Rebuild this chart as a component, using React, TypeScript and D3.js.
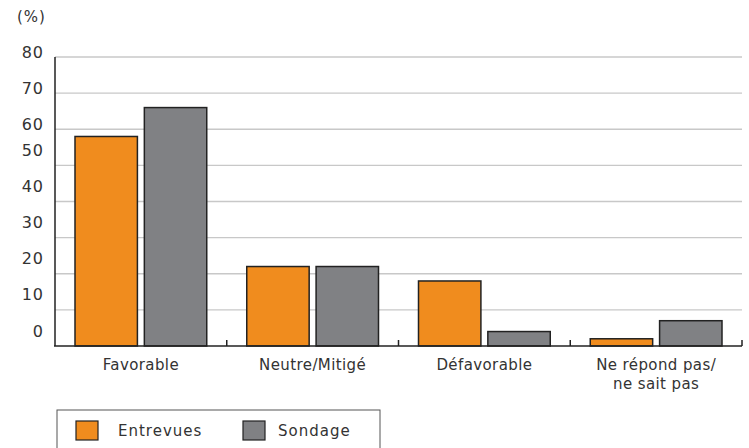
import React from "react";
import * as d3 from "d3";

const categories = ["Favorable", "Neutre/Mitigé", "Défavorable", "Ne répond pas/\nne sait pas"];
const seriesNames = ["Entrevues", "Sondage"];
const entrevues = [58, 22, 18, 2];
const sondage = [66, 22, 4, 7];
const yTicks = [0, 10, 20, 30, 40, 50, 60, 70, 80];
const colors = ["#F08C1E", "#808184"];

export default function App() {
  const W = 749, H = 448;
  const left = 55, right = 742, top = 57, bottom = 346;
  const x0 = d3.scaleBand<string>().domain(categories).range([left, right]).paddingInner(0).paddingOuter(0);
  const bw = x0.bandwidth();
  const x1 = d3.scaleBand<string>().domain(seriesNames).range([20, bw - 20]).paddingInner(0.1).paddingOuter(0);
  const y = d3.scaleLinear().domain([0, 80]).range([bottom, top]);
  const values = [entrevues, sondage];
  const font = "'DejaVu Sans', sans-serif";
  const textColor = "#333";

  return (
    <svg width={W} height={H} style={{ position: "absolute", left: 0, top: 0, background: "#fff" }} fontFamily={font}>
      <text x={17} y={22} fontSize={15} letterSpacing={1} fill={textColor}>(%)</text>
      {yTicks.filter(t => t > 0).map(t => (
        <line key={"g" + t} x1={left} x2={right} y1={y(t)} y2={y(t)} stroke="#c8c8c8" strokeWidth={1.3} />
      ))}
      {yTicks.map(t => (
        <text key={"t" + t} x={44} y={y(t) - (t >= 60 ? 4 : 14)} fontSize={16} letterSpacing={1} fill={textColor} textAnchor="end" dominantBaseline="middle">{t}</text>
      ))}
      {categories.map((c, ci) => (
        <g key={c} transform={`translate(${x0(c)},0)`}>
          {seriesNames.map((s, si) => (
            <rect key={s} x={x1(s)} y={y(values[si][ci])} width={x1.bandwidth()} height={y(0) - y(values[si][ci])}
              fill={colors[si]} stroke="#222" strokeWidth={1.5} />
          ))}
        </g>
      ))}
      <line x1={left} x2={left} y1={top} y2={bottom} stroke="#222" strokeWidth={1.5} />
      <line x1={left - 1} x2={right} y1={bottom} y2={bottom} stroke="#222" strokeWidth={1.5} />
      {categories.map(c => (
        <line key={"k" + c} x1={(x0(c) as number) + bw} x2={(x0(c) as number) + bw} y1={bottom} y2={bottom - 6} stroke="#222" strokeWidth={1.5} />
      ))}
      {categories.map(c => (
        <text key={"l" + c} x={(x0(c) as number) + bw / 2} y={370} fontSize={15} letterSpacing={0.4} fill={textColor} textAnchor="middle">
          {c.split("\n").map((line, i) => (
            <tspan key={i} x={(x0(c) as number) + bw / 2} dy={i === 0 ? 0 : 19}>{line}</tspan>
          ))}
        </text>
      ))}
      <rect x={57} y={410} width={323} height={45} fill="none" stroke="#555" strokeWidth={1} />
      {seriesNames.map((s, i) => (
        <g key={"lg" + s} transform={`translate(${i === 0 ? 76 : 243},421)`}>
          <rect x={0} y={0} width={22} height={19} fill={colors[i]} stroke="#222" strokeWidth={1.2} />
          <text x={i === 0 ? 42 : 35} y={15} fontSize={15} letterSpacing={1} fill={textColor}>{s}</text>
        </g>
      ))}
    </svg>
  );
}
